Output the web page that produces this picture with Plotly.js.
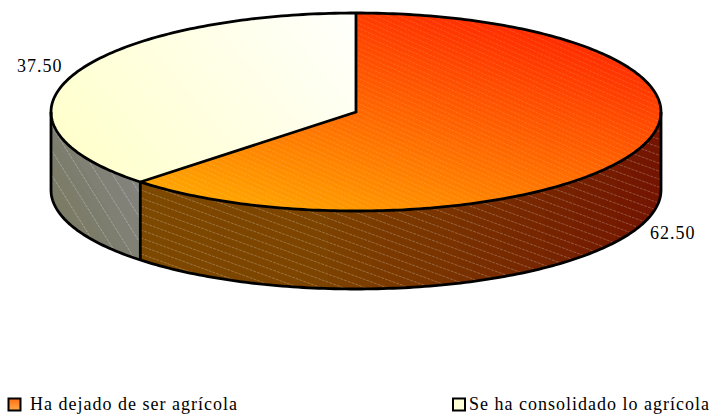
<!DOCTYPE html>
<html><head><meta charset="utf-8">
<script src="https://cdn.plot.ly/plotly-3.0.1.min.js"></script>
<style>html,body{margin:0;padding:0;background:#fff}#c{width:710px;height:414px}
.annotation-text{letter-spacing:1px}</style></head><body><div id="c"></div>
<script>
const categories=["Ha dejado de ser agrícola","Se ha consolidado lo agrícola"];
const values=[62.5,37.5];
const valueLabels=["62.50","37.50"];

const CX=356,CY=112,RX=305,RY=99,DEPTH=78;
const total=values.reduce((a,b)=>a+b,0);
const split=values[0]/total*2*Math.PI;
const pt=(t,dy=0)=>[CX+RX*Math.sin(t),CY-RY*Math.cos(t)+dy];
function arc(a,b,dy=0,n=180){const r=[];for(let i=0;i<=n;i++)r.push(pt(a+(b-a)*i/n,dy));return r;}
const lerp=(a,b,t)=>a.map((v,i)=>Math.round(v+(b[i]-v)*t));
function ramp(stops,t){t=Math.max(0,Math.min(1,t));const k=Math.min(stops.length-2,Math.floor(t*(stops.length-1)));
  return lerp(stops[k],stops[k+1],t*(stops.length-1)-k);}
function clip(poly,nx,ny,c){const o=[];for(let i=0;i<poly.length;i++){const p=poly[i],q=poly[(i+1)%poly.length];
  const dp=nx*p[0]+ny*p[1]-c,dq=nx*q[0]+ny*q[1]-c;if(dp>=0)o.push(p);
  if((dp>=0)!==(dq>=0)){const s=dp/(dp-dq);o.push([p[0]+(q[0]-p[0])*s,p[1]+(q[1]-p[1])*s]);}}return o;}
const traces=[];
function xy(poly){return{x:poly.map(p=>p[0]),y:poly.map(p=>p[1])};}
function fillTrace(poly,rgb){const d=xy(poly);traces.push({type:'scatter',mode:'lines',x:d.x.concat(d.x[0]),y:d.y.concat(d.y[0]),fill:'toself',fillcolor:`rgb(${rgb.join(',')})`,line:{width:0},hoverinfo:'skip',showlegend:false});}
function gradient(poly,angle,stops,n=36){const a=angle*Math.PI/180,nx=Math.cos(a),ny=Math.sin(a);
  const ds=poly.map(p=>nx*p[0]+ny*p[1]),lo=Math.min(...ds),hi=Math.max(...ds);
  for(let i=0;i<n;i++){const c=i===0?lo-1:lo+(hi-lo)*i/n;const pl=i===0?poly:clip(poly,nx,ny,c);
    if(pl.length>2)fillTrace(pl,ramp(stops,(i+.5)/n));}}
function inside(poly,x,y){let r=false;for(let i=0,j=poly.length-1;i<poly.length;j=i++){const a=poly[i],b=poly[j];
  if((a[1]>y)!==(b[1]>y)&&x<(b[0]-a[0])*(y-a[1])/(b[1]-a[1])+a[0])r=!r;}return r;}
function hatch(poly,deg,gap,color,dash){const a=deg*Math.PI/180,ux=Math.cos(a),uy=Math.sin(a),nx=-uy,ny=ux;
  const ds=poly.map(p=>nx*p[0]+ny*p[1]),us=poly.map(p=>ux*p[0]+uy*p[1]);
  const lo=Math.min(...ds),hi=Math.max(...ds),ul=Math.min(...us),uh=Math.max(...us);const X=[],Y=[];
  for(let d=lo+gap/2;d<hi;d+=gap){let on=false;for(let u=ul;u<=uh;u+=1.5){const x=ux*u+nx*d,y=uy*u+ny*d;
      if(inside(poly,x,y)){X.push(x);Y.push(y);on=true;}else if(on){X.push(null);Y.push(null);on=false;}}
    X.push(null);Y.push(null);}
  traces.push({type:'scatter',mode:'lines',x:X,y:Y,line:{color,width:1,dash},connectgaps:false,hoverinfo:'skip',showlegend:false});}
function outline(poly,close){const d=xy(close?poly.concat([poly[0]]):poly);traces.push({type:'scatter',mode:'lines',x:d.x,y:d.y,line:{color:'#000',width:2.8,simplify:false},hoverinfo:'skip',showlegend:false});}

const topA=[[CX,CY],...arc(0,split)];
const topB=[[CX,CY],...arc(split,2*Math.PI)];
const sideFront=[...arc(Math.PI/2,split),...arc(split,Math.PI/2,DEPTH)];
const sideLeft=[...arc(split,1.5*Math.PI),...arc(1.5*Math.PI,split,DEPTH)];

gradient(sideFront,180,[[115,20,0],[120,45,0],[125,68,0],[125,72,0]],36);
gradient(sideLeft,-30,[[122,122,100],[132,132,128]],8);
hatch(sideFront,20,7.5,'rgba(255,255,255,0.24)','3px,1px');
hatch(sideLeft,58,13,'rgba(255,255,255,0.28)','3px,1px');
gradient(topA,105,[[255,45,0],[255,85,0],[255,125,0],[255,165,0]],60);
hatch(topA,24,4.6,'rgba(255,255,255,0.13)','3px,1px');
gradient(topB,140,[[255,255,252],[255,255,205]],24);

outline(arc(0,2*Math.PI,0,360),true);
outline([pt(split),[CX,CY],[CX,CY-RY]]);
outline(arc(Math.PI/2,1.5*Math.PI,DEPTH));
outline([pt(Math.PI/2),pt(Math.PI/2,DEPTH)]);
outline([pt(1.5*Math.PI),pt(1.5*Math.PI,DEPTH)]);
outline([pt(split),pt(split,DEPTH)]);

const legendX=[14.5,459],legendY=404.5;
traces.push({type:'scatter',mode:'markers',x:[legendX[0]],y:[legendY],marker:{symbol:'square',size:12,color:'rgb(255,110,20)',gradient:{type:'vertical',color:'rgb(255,170,70)'},line:{color:'#000',width:2}},hoverinfo:'skip',showlegend:false});
traces.push({type:'scatter',mode:'markers',x:[legendX[1]],y:[legendY],marker:{symbol:'square',size:12,color:'rgb(255,255,215)',line:{color:'#000',width:2}},hoverinfo:'skip',showlegend:false});

const font={family:'"Liberation Serif","Times New Roman",serif',size:18,color:'#000'};
const annotations=[
 {x:29,y:404,text:categories[0],xanchor:'left'},
 {x:468,y:404,text:categories[1],xanchor:'left'},
 {x:649,y:233,text:valueLabels[0],xanchor:'left'},
 {x:16,y:66,text:valueLabels[1],xanchor:'left'}
].map(a=>({...a,xref:'x',yref:'y',yanchor:'middle',showarrow:false,font,borderpad:0}));

Plotly.newPlot('c',traces,{width:710,height:414,margin:{l:0,r:0,t:0,b:0,pad:0},paper_bgcolor:'#fff',plot_bgcolor:'#fff',showlegend:false,
 xaxis:{range:[0,710],visible:false,fixedrange:true},yaxis:{range:[414,0],visible:false,fixedrange:true},annotations,hovermode:false},{displayModeBar:false,staticPlot:true});
</script></body></html>
